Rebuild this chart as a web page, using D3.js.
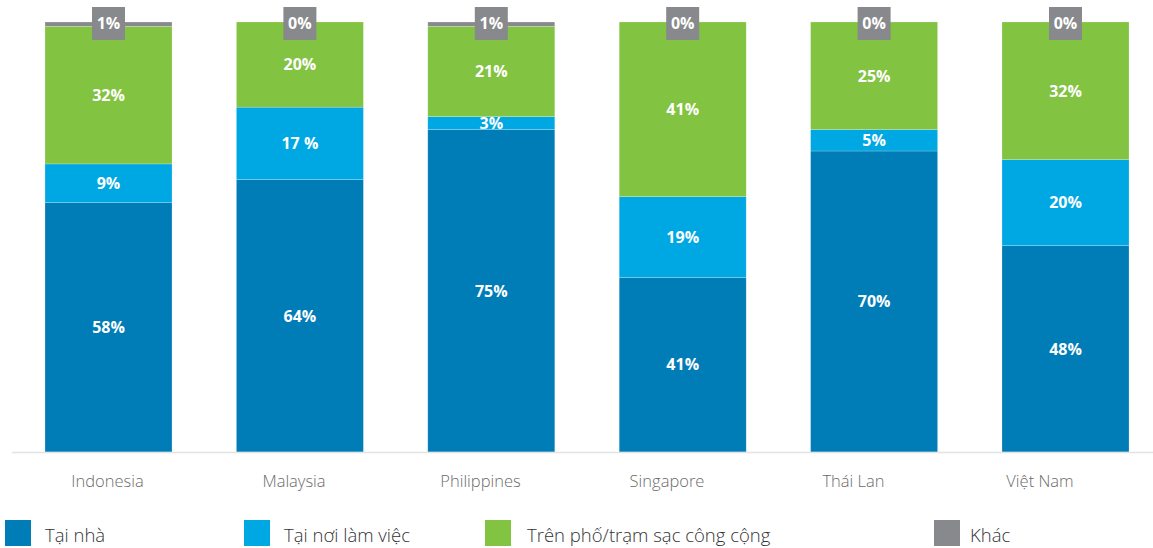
<!DOCTYPE html>
<html>
<head>
<meta charset="utf-8">
<script src="https://cdn.jsdelivr.net/npm/d3@7"></script>
<style>
  html, body { margin: 0; padding: 0; background: #fff; }
  svg { display: block; font-family: "Open Sans", "Noto Sans", sans-serif; }
</style>
</head>
<body>
<svg id="chart" width="1153" height="548"></svg>
<script>
// Charging location share by country (%)
const countries = ["Indonesia", "Malaysia", "Philippines", "Singapore", "Thái Lan", "Việt Nam"];
const seriesNames = ["Tại nhà", "Tại nơi làm việc", "Trên phố/trạm sạc công cộng", "Khác"];
const atHome   = [58, 64, 75, 41, 70, 48];
const atWork   = [9, 17, 3, 19, 5, 20];
const publicSt = [32, 20, 21, 41, 25, 32];
const other    = [1, 0, 1, 0, 0, 0];
const valueLabels = [
  ["58%", "64%", "75%", "41%", "70%", "48%"],
  ["9%", "17 %", "3%", "19%", "5%", "20%"],
  ["32%", "20%", "21%", "41%", "25%", "32%"],
  ["1%", "0%", "1%", "0%", "0%", "0%"]
];
const colors = ["#007cb6", "#00a8e3", "#82c341", "#87898c"];

const svg = d3.select("#chart");
const W = 1153;
const baseY = 452, topY = 22;

const rows = countries.map((c, i) => ({
  country: c,
  s0: atHome[i], s1: atWork[i], s2: publicSt[i], s3: other[i]
}));
const keys = ["s0", "s1", "s2", "s3"];

// each bar is scaled to fill 100%
const stack = d3.stack().keys(keys).offset(d3.stackOffsetExpand);
const layers = stack(rows);

const x = d3.scaleBand()
  .domain(countries)
  .range([12.8, 1161.2])
  .paddingInner(0.3365)
  .paddingOuter(0.16825);

// category captions sit on their own, slightly tighter, spacing
const xLabel = d3.scalePoint()
  .domain(countries)
  .range([107.5, 1040]);

const y = d3.scaleLinear().domain([0, 1]).range([baseY, topY]);

// stacked segments
const g = svg.append("g");
layers.forEach((layer, li) => {
  g.selectAll(null)
    .data(layer)
    .enter()
    .append("rect")
    .attr("x", d => x(d.data.country))
    .attr("width", x.bandwidth())
    .attr("y", d => y(d[1]))
    .attr("height", d => Math.max(0, y(d[0]) - y(d[1])))
    .attr("fill", colors[li])
    .attr("stroke", "rgba(255,255,255,0.35)")
    .attr("stroke-width", 0.6);
});

// baseline
svg.append("line")
  .attr("x1", 12).attr("x2", W)
  .attr("y1", baseY + 0.5).attr("y2", baseY + 0.5)
  .attr("stroke", "#e3e3e3").attr("stroke-width", 1.5);

// value labels inside segments
layers.slice(0, 3).forEach((layer, li) => {
  g.selectAll(null)
    .data(layer)
    .enter()
    .append("text")
    .attr("x", d => x(d.data.country) + x.bandwidth() / 2)
    .attr("y", d => (y(d[0]) + y(d[1])) / 2)
    .attr("dy", "0.36em")
    .attr("text-anchor", "middle")
    .attr("fill", "#fff")
    .attr("font-weight", 700)
    .attr("font-size", 16)
    .text((d, i) => valueLabels[li][i]);
});

// "Khác" labels in grey tabs at the top of each bar
const tabW = 33, tabH = 33;
const tabs = svg.append("g").selectAll("g")
  .data(layers[3])
  .enter()
  .append("g")
  .attr("transform", d => `translate(${x(d.data.country) + x.bandwidth() / 2},${y(1) - 15})`);
tabs.append("rect")
  .attr("x", -tabW / 2).attr("y", 0)
  .attr("width", tabW).attr("height", tabH)
  .attr("fill", colors[3]);
tabs.append("text")
  .attr("x", 0).attr("y", tabH / 2)
  .attr("dy", "0.36em")
  .attr("text-anchor", "middle")
  .attr("fill", "#fff")
  .attr("font-weight", 700)
  .attr("font-size", 16)
  .text((d, i) => valueLabels[3][i]);

// category axis labels
svg.append("g").selectAll("text")
  .data(countries)
  .enter()
  .append("text")
  .attr("x", d => xLabel(d))
  .attr("y", 487)
  .attr("text-anchor", "middle")
  .attr("fill", "#6b6b6b")
  .attr("font-weight", 300)
  .attr("font-size", 16.5)
  .text(d => d);

// legend
const legendX = [5, 244, 485, 934];
const legend = svg.append("g").selectAll("g")
  .data(seriesNames)
  .enter()
  .append("g")
  .attr("transform", (d, i) => `translate(${legendX[i]},520)`);
legend.append("rect")
  .attr("width", 26).attr("height", 26)
  .attr("fill", (d, i) => colors[i]);
legend.append("text")
  .attr("x", (d, i) => i < 2 ? 40 : (i === 2 ? 42 : 36))
  .attr("y", 22)
  .attr("fill", "#333")
  .attr("font-weight", 300)
  .attr("font-size", 18.5)
  .text(d => d);
</script>
</body>
</html>
